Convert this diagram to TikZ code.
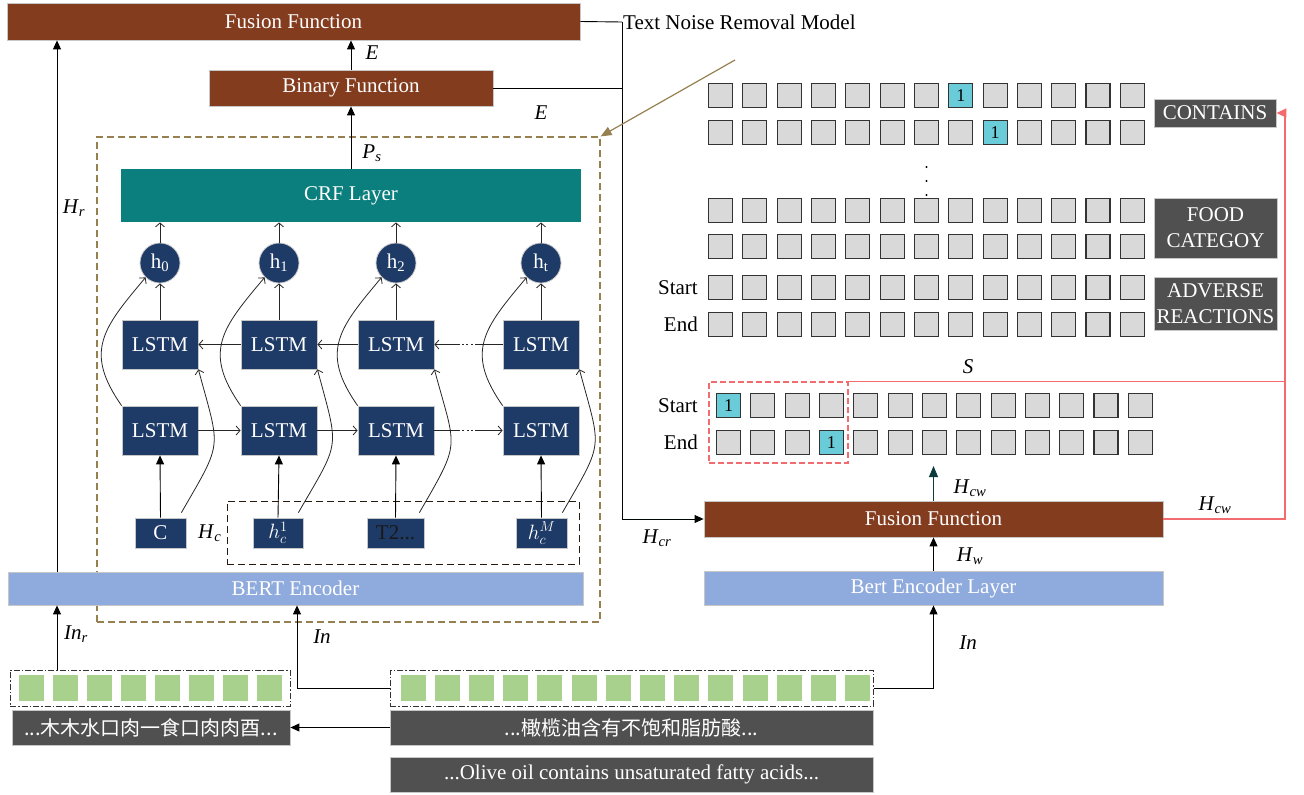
\documentclass[tikz,border=0pt]{standalone}
\usepackage{fontspec}
\setmainfont{Liberation Serif}
\newfontfamily\cjk{Noto Sans CJK SC}
\usetikzlibrary{arrows.meta,calc}
\definecolor{brn}{HTML}{843C1F}
\definecolor{navy}{HTML}{1E3A66}
\definecolor{crf}{HTML}{0B7F7D}
\definecolor{bert}{HTML}{8FAADC}
\definecolor{dgray}{HTML}{505050}
\definecolor{grn}{HTML}{A9D18E}
\definecolor{cyn}{HTML}{6ACBD9}
\definecolor{sq}{HTML}{D9D9D9}
\definecolor{khaki}{HTML}{96804F}
\definecolor{pnk}{HTML}{F26B6E}
\definecolor{dteal}{HTML}{0D3B3B}
\begin{document}
\begin{tikzpicture}[x=1pt,y=-1pt,
  every node/.style={font=\fontsize{21}{25}\selectfont},
  bx/.style={draw=black!22, line width=0.8pt, inner sep=0pt, text=white},
  lstm/.style={bx, fill=navy, minimum width=76pt, minimum height=49pt},
  hcirc/.style={bx, circle, fill=navy, minimum size=40pt},
  inp/.style={bx, fill=navy, minimum height=30pt},
  sqr/.style={draw=black!80, line width=1.3pt, fill=sq, minimum size=24pt, inner sep=0pt, font=\fontsize{18}{20}\selectfont},
  one/.style={sqr, fill=cyn},
  gsq/.style={fill=grn, minimum width=25pt, minimum height=26pt, inner sep=0pt},
  lbl/.style={bx, fill=dgray, align=center, font=\fontsize{21}{26}\selectfont},
  arr/.style={-{Triangle[length=9pt,width=8pt]}, line width=0.9pt},
  oarr/.style={-{Straight Barb[length=4pt,width=9pt]}, line width=0.8pt, black!85},
  dashdot/.style={draw=black!80, line width=1pt, dash pattern=on 6pt off 2pt on 1.5pt off 2pt, inner sep=0pt},
  math/.style={inner sep=1pt}
]
\useasboundingbox (0,0) rectangle (1304,795);

% ---------- left column boxes ----------
\node[bx, fill=brn, minimum width=573pt, minimum height=37pt] (fus) at (293.5,21.5) {Fusion Function};
\node[bx, fill=brn, minimum width=284pt, minimum height=36pt] (bin) at (351,88) {Binary Function};
\node[draw=khaki, line width=1.2pt, dash pattern=on 7pt off 4pt, minimum width=503pt, minimum height=485pt, inner sep=0pt] (dbox) at (348.5,379.5) {};
\node[bx, draw=none, fill=crf, minimum width=460pt, minimum height=53pt] (crf) at (351,195.5) {CRF Layer};
\node[bx, fill=bert, minimum width=575pt, minimum height=33pt] (bert) at (295.5,588.5) {BERT Encoder};

% circles, LSTMs, inputs
\foreach \i/\x/\s in {0/160/0,1/279/1,2/396/2,3/541/t}{
  \node[hcirc] (h\i) at (\x,263) {h\textsubscript{\s}};
  \node[lstm] (up\i) at (\x,344.5) {LSTM};
  \node[lstm] (lo\i) at (\x,430.5) {LSTM};
}
\node[inp, minimum width=51pt] (in0) at (160.5,533) {C};
\node[inp, minimum width=50pt] (in1) at (278,533) {$h_c^1$};
\node[inp, minimum width=57pt, text=black!90] (in2) at (395.5,533) {T2...};
\node[inp, minimum width=51pt] (in3) at (541.5,533) {$h_c^M$};
\node[draw=black!80!brown, line width=1pt, dash pattern=on 7pt off 4pt, minimum width=352pt, minimum height=63pt, inner sep=0pt] (dbox2) at (403,532.5) {};

% vertical connections
\foreach \i in {0,1,2,3}{
  \draw[oarr] (h\i.north) -- (h\i.north |- crf.south);
  \draw[oarr] (up\i.north) -- (h\i.south);
  \draw[arr] (in\i.north) -- (lo\i.south);
  \draw[oarr] (lo\i.north west) to[out=125,in=230,looseness=1.3] (h\i.south west);
  \draw[oarr] ($(in\i.north east)+(-5,-5)$) to[out=60,in=-75,looseness=1.5] (up\i.south east);
}
% horizontal LSTM connections
\draw[oarr] (up1.west) -- (up0.east);
\draw[oarr] (up2.west) -- (up1.east);
\draw[oarr, dash pattern=on 28pt off 2pt on 2pt off 2.5pt on 2pt off 2.5pt on 2pt off 2pt on 40pt] (up3.west) -- (up2.east);
\draw[oarr] (lo0.east) -- (lo1.west);
\draw[oarr] (lo1.east) -- (lo2.west);
\draw[oarr, dash pattern=on 26pt off 2pt on 2pt off 2.5pt on 2pt off 2.5pt on 2pt off 2pt on 40pt] (lo2.east) -- (lo3.west);

\node[math, anchor=west] at (197,533) {\textit{H}\textsubscript{\textit{c}}};

% top arrows
\draw[arr] (bin.north) -- (fus.south -| bin.north);
\draw[arr] (crf.north -| bin.south) -- (bin.south);
\node[math] at (372,53) {\textit{E}};
\node[math] at (372,153) {\textit{P}\textsubscript{\textit{s}}};
\node[math] at (541,113) {\textit{E}};

\coordinate (xl) at (57,0);
\coordinate (xin) at (297,0);
\draw[arr] (bert.north -| xl) -- (fus.south -| xl);
\node[math] at (74,208) {\textit{H}\textsubscript{\textit{r}}};

% ---------- bottom text rows ----------
\node[dashdot, minimum width=280pt, minimum height=36pt] (gl) at (150,688) {};
\foreach \i in {0,...,7}{ \node[gsq] at (31.5+34*\i,688) {}; }
\node[dashdot, minimum width=483pt, minimum height=36pt] (gr) at (631.5,688) {};
\foreach \i in {0,...,13}{ \node[gsq] at (413+34.2*\i,688) {}; }
\node[bx, fill=dgray, minimum width=278pt, minimum height=35pt] (cnl) at (151,727.5) {\cjk\fontsize{20}{22}\selectfont ...木木水口肉一食口肉肉酉...};
\node[bx, fill=dgray, minimum width=483pt, minimum height=35pt] (cnr) at (631.5,727.5) {\cjk\fontsize{20}{22}\selectfont ...橄榄油含有不饱和脂肪酸...};
\node[bx, fill=dgray, minimum width=483pt, minimum height=35pt] (olive) at (631.5,774.5) {...Olive oil contains unsaturated fatty acids...};
\draw[arr] (cnr.west) -- (cnl.east);
\draw[arr] (gl.north -| xl) -- (bert.south -| xl);
\node[math] at (76,634) {\textit{In}\textsubscript{\textit{r}}};
\draw[arr] (gr.west) -| (xin |- bert.south);
\node[math] at (322,637) {\textit{In}};

% ---------- right side ----------
\node[bx, fill=brn, minimum width=459pt, minimum height=36pt] (ff2) at (933.5,519) {Fusion Function};
\node[bx, fill=bert, minimum width=459pt, minimum height=34pt] (bel) at (933.5,588) {Bert Encoder Layer};
\draw[arr] (gr.east) -| (bel.south);
\node[math] at (968,643) {\textit{In}};
\draw[arr] (bel.north) -- (ff2.south);
\node[math] at (970,556) {\textit{H}\textsubscript{\textit{w}}};
\coordinate (hcwtop) at (933.5,466);
\draw[dteal, line width=0.9pt, -{Triangle[length=11pt,width=9pt]}] (ff2.north) -- (hcwtop);
\node[math] at (970,488) {\textit{H}\textsubscript{\textit{cw}}};

% noise removal model connectors
\coordinate (xv) at (622,0);
\node[anchor=west, inner sep=1pt] (tnrm) at (622,22) {Text Noise Removal Model};
\draw[line width=0.9pt] (fus.east) -- (tnrm.west);
\draw[line width=0.9pt] (bin.east) -- (bin.east -| xv);
\draw[arr, black!90!dteal] (xv |- tnrm.west) -- (xv |- ff2.west) -- (ff2.west);
\node[math] at (657,538) {\textit{H}\textsubscript{\textit{cr}}};
\coordinate (ptr) at (735,60);
\draw[khaki, line width=1.2pt, -{Triangle[length=11pt,width=9pt]}] (ptr) -- (dbox.north east);

% matrices
\foreach \r/\y in {1/95.5,2/132.5,3/210.5,4/246.5,5/287.5,6/324.5}{
  \foreach \c in {0,...,12}{
    \node[sqr] (m\r-\c) at (720.5+34.33*\c,\y) {};
  }
}
\node[one] at (m1-7) {1};
\node[one] at (m2-8) {1};
\foreach \y in {167,181,195}{ \fill (926.5,\y) circle (1.2pt); }
\foreach \r/\y in {1/405.5,2/442.5}{
  \foreach \c in {0,...,12}{
    \node[sqr] (b\r-\c) at (728.5+34.33*\c,\y) {};
  }
}
\node[one] at (b1-0) {1};
\node[one] at (b2-3) {1};
\node[anchor=east, inner sep=0pt] at (698,287.5) {Start};
\node[anchor=east, inner sep=0pt] at (698,324.5) {End};
\node[anchor=east, inner sep=0pt] at (698,405.5) {Start};
\node[anchor=east, inner sep=0pt] at (698,442.5) {End};

\node[lbl, minimum width=122pt, minimum height=28pt] (cont) at (1215,113) {CONTAINS};
\node[lbl, minimum width=123pt, minimum height=60pt] (food) at (1215.5,228) {FOOD\\CATEGOY};
\node[lbl, minimum width=123pt, minimum height=53pt] (adv) at (1215.5,303.5) {ADVERSE\\REACTIONS};

\node[draw=pnk, line width=1.3pt, dash pattern=on 6pt off 3pt, minimum width=139pt, minimum height=81pt, inner sep=0pt] (pbox) at (778.5,422.5) {};
\coordinate (xr) at (1285,0);
\draw[pnk, line width=1.5pt, -{Triangle[length=10pt,width=9pt]}] (ff2.east) -| (xr |- cont.east) -- (cont.east);
\draw[pnk, line width=1.5pt] (pbox.north east) -- (pbox.north east -| xr);
\node[math] at (968,367) {\textit{S}};
\node[math] at (1215,505) {\textit{H}\textsubscript{\textit{cw}}};
\end{tikzpicture}
\end{document}
